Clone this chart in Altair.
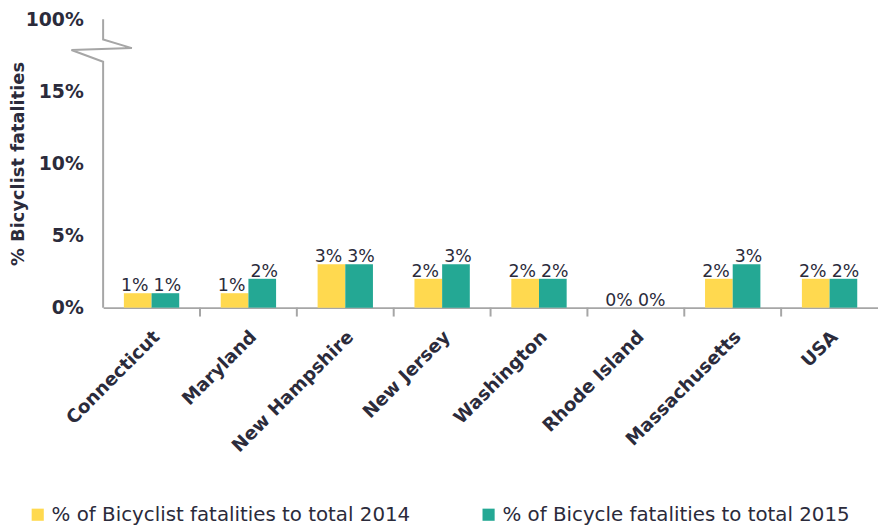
import altair as alt
import pandas as pd

states = ["Connecticut", "Maryland", "New Hampshire", "New Jersey",
          "Washington", "Rhode Island", "Massachusetts", "USA"]
pct_2014 = [1, 1, 3, 2, 2, 0, 2, 2]
pct_2015 = [1, 2, 3, 3, 2, 0, 3, 2]
series = ["% of Bicyclist fatalities to total 2014",
          "% of Bicycle fatalities to total 2015"]
colors = ["#FFD94F", "#24A894"]

# y-axis break: axis line positions (pixel x offset, value y)
axis_px = [0, 0, -32, 29, 0, 0]
axis_y = [0, 17.05, 17.87, 18.0, 18.6, 20]

rows = []
for s, a, b in zip(states, pct_2014, pct_2015):
    rows.append({"state": s, "series": series[0], "v": a})
    rows.append({"state": s, "series": series[1], "v": b})
df = pd.DataFrame(rows)
df["label"] = df["v"].astype(str) + "%"

ticks_df = pd.DataFrame({"state": states[1:]})
axis_df = pd.DataFrame({"px": axis_px, "y": axis_y, "o": list(range(len(axis_px)))})

FONT = "DejaVu Sans"
TXT = "#2B2B3B"
GRAY = "#A6A6A6"
H = 291
W = 782

xscale = alt.Scale(paddingInner=0, paddingOuter=0)
yscale = alt.Scale(domain=[0, 20], nice=False, zero=True)
offscale = alt.Scale(paddingInner=0, paddingOuter=0.75)

x_enc = alt.X("state:N", sort=states, scale=xscale,
              axis=alt.Axis(title=None, labelAngle=-45, labelAlign="right",
                            labelBaseline="middle", labelFontSize=18.5,
                            labelFontWeight="bold", labelColor=TXT, labelFont=FONT,
                            ticks=False, domainColor=GRAY, domainWidth=2,
                            labelPadding=26, labelOffset=5))

bars = alt.Chart(df).mark_bar().encode(
    x=x_enc,
    xOffset=alt.XOffset("series:N", sort=series, scale=offscale),
    y=alt.Y("v:Q", scale=yscale,
            axis=alt.Axis(values=[0, 5, 10, 15, 20],
                          labelExpr="datum.value == 20 ? '100%' : datum.value + '%'",
                          domain=False, ticks=False, grid=False, labelPadding=20,
                          labelFontSize=19, labelFontWeight="bold", labelColor=TXT,
                          labelFont=FONT, title="% Bicyclist fatalities",
                          titleFontSize=18, titleFontWeight="bold", titleColor=TXT,
                          titleFont=FONT, titleX=-85, titleY=H / 2,
                          titleBaseline="middle")),
    color=alt.Color("series:N", sort=series,
                    scale=alt.Scale(domain=series, range=colors),
                    legend=alt.Legend(title=None, orient="none", legendX=-76,
                                      legendY=490, direction="horizontal",
                                      symbolType="square", symbolSize=150,
                                      symbolStrokeWidth=0, labelFontSize=20,
                                      labelFont=FONT, labelColor=TXT,
                                      labelLimit=600, columnPadding=68,
                                      labelOffset=4)),
)


def label_layer(name, dx):
    return alt.Chart(df).transform_filter(
        alt.datum.series == name
    ).mark_text(baseline="alphabetic", dy=-2, dx=dx, fontSize=17.5,
                font=FONT, color=TXT).encode(
        x=alt.X("state:N", sort=states, scale=xscale),
        xOffset=alt.XOffset("series:N", sort=series, scale=offscale),
        y=alt.Y("v:Q", scale=yscale),
        text="label:N",
    )


labels_a = label_layer(series[0], -3)
labels_b = label_layer(series[1], 2)

tick_rules = alt.Chart(ticks_df).mark_rule(color=GRAY, strokeWidth=2).encode(
    x=alt.X("state:N", sort=states, scale=xscale, bandPosition=0),
    y=alt.value(H),
    y2=alt.value(H + 9),
)

yline = alt.Chart(axis_df).mark_line(color=GRAY, strokeWidth=2).encode(
    x=alt.X("px:Q", scale=None, axis=None),
    y=alt.Y("y:Q", scale=yscale),
    order="o:Q",
)

chart = alt.layer(bars, labels_a, labels_b, tick_rules, yline).properties(
    width=W, height=H,
    background="white",
    autosize=alt.AutoSizeParams(type="none"),
    padding={"left": 96, "top": 9, "right": 0, "bottom": 218},
).configure_view(stroke=None)

chart.save("out.html", embed_options={"renderer": "svg", "actions": False})
